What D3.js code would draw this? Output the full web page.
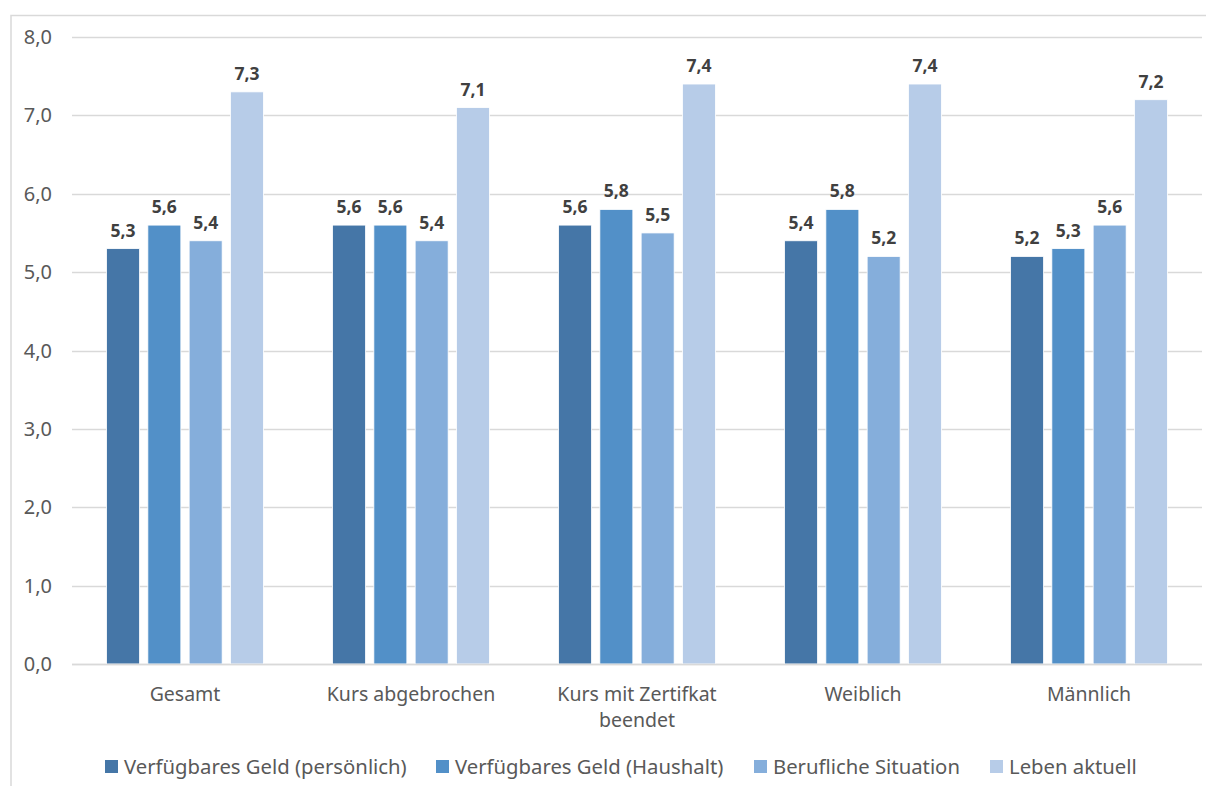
<!DOCTYPE html>
<html><head><meta charset="utf-8">
<script src="https://cdn.jsdelivr.net/npm/d3@7"></script>
<style>body{margin:0;background:#fff;}svg{display:block;font-family:"Noto Sans",sans-serif;}</style>
</head><body><svg id="c" width="1206" height="786"></svg>
<script>
const categories = [["Gesamt"],["Kurs abgebrochen"],["Kurs mit Zertifkat","beendet"],["Weiblich"],["Männlich"]];
const seriesNames = ["Verfügbares Geld (persönlich)","Verfügbares Geld (Haushalt)","Berufliche Situation","Leben aktuell"];
const persoenlich = [5.3,5.6,5.6,5.4,5.2];
const haushalt = [5.6,5.6,5.8,5.8,5.3];
const beruflich = [5.4,5.4,5.5,5.2,5.6];
const leben = [7.3,7.1,7.4,7.4,7.2];
const yTicks = [0,1,2,3,4,5,6,7,8];
const colors = ["#4576a7","#5290c8","#85aedb","#b7cce8"];
const series = [persoenlich,haushalt,beruflich,leben];

(function(){
const svg = d3.select("#c");
svg.append("path").attr("d","M11,800V15.5H1220").attr("fill","none").attr("stroke","#d9d9d9").attr("stroke-width",1.5);

const pL=72, pR=1202, pT=37, pB=664;
const x0 = d3.scaleBand().domain(d3.range(categories.length)).range([pL,pR]).paddingInner(0).paddingOuter(0);
const y = d3.scaleLinear().domain([0,8]).range([pB,pT]);
const fmt = v => d3.format(".1f")(v).replace(".",",");

const g = svg.append("g");
g.selectAll("line.grid").data(yTicks).join("line").attr("class","grid")
 .attr("x1",pL).attr("x2",pR).attr("y1",d=>Math.round(y(d))+0.5).attr("y2",d=>Math.round(y(d))+0.5)
 .attr("stroke","#d9d9d9").attr("stroke-width",1.3);
g.selectAll("text.yt").data(yTicks).join("text").attr("class","yt")
 .attr("x",52).attr("y",d=>y(d)).attr("dy","0.35em").attr("text-anchor","end")
 .attr("font-size",20).attr("fill","#595959").text(fmt);

const bw=33, gap=8.3;
const groupW = 4*bw+3*gap;
series.forEach((s,si)=>{
  const xs = i => x0(i)+x0.bandwidth()/2 - groupW/2 + si*(bw+gap);
  g.selectAll("rect.s"+si).data(s).join("rect").attr("class","s"+si)
   .attr("x",(d,i)=>xs(i)).attr("width",bw).attr("y",d=>y(d)).attr("height",d=>pB-y(d))
   .attr("fill",colors[si]).attr("stroke","#fff").attr("stroke-width",0.8);
  g.selectAll("text.l"+si).data(s).join("text").attr("class","l"+si)
   .attr("x",(d,i)=>xs(i)+bw/2).attr("y",d=>y(d)-12).attr("text-anchor","middle")
   .attr("font-size",17.5).attr("font-weight","bold").attr("fill","#404040").text(fmt);
});
g.append("line").attr("x1",pL).attr("x2",pR).attr("y1",pB+0.5).attr("y2",pB+0.5).attr("stroke","#d9d9d9").attr("stroke-width",1.5);

categories.forEach((lines,i)=>{
  const t = g.append("text").attr("x",x0(i)+x0.bandwidth()/2).attr("y",701).attr("text-anchor","middle")
   .attr("font-size",19.5).attr("fill","#595959");
  lines.forEach((l,j)=>t.append("tspan").attr("x",x0(i)+x0.bandwidth()/2).attr("dy",j?26:0).text(l));
});

const legX=[105,436,754,990];
const lg = svg.append("g");
seriesNames.forEach((n,i)=>{
  lg.append("rect").attr("x",legX[i]).attr("y",760).attr("width",13).attr("height",13).attr("fill",colors[i]);
  lg.append("text").attr("x",legX[i]+19).attr("y",767).attr("dy","0.35em").attr("font-size",20.3).attr("fill","#595959").text(n);
});
})();
</script></body></html>
